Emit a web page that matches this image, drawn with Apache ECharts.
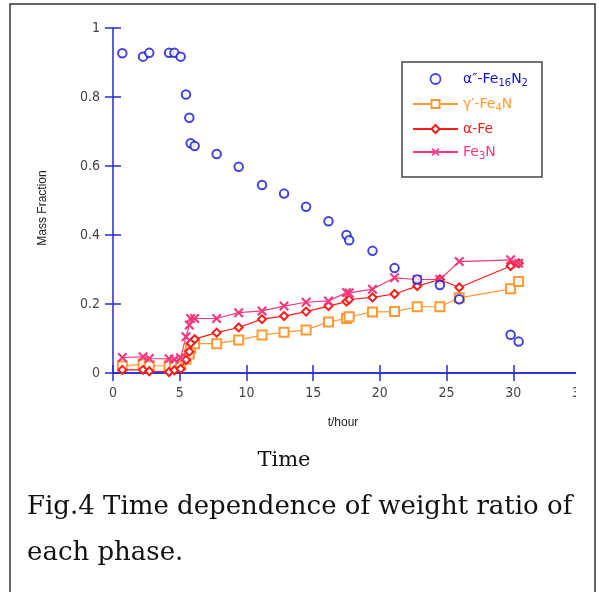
<!DOCTYPE html>
<html><head><meta charset="utf-8">
<script src="https://cdn.jsdelivr.net/npm/echarts@6/dist/echarts.min.js"></script>
<style>html,body{margin:0;padding:0;background:#fff}#c{width:599px;height:592px}</style>
</head><body><div id="c"></div>
<script>
// ---- data ----
const times        = [0.7, 2.25, 2.72, 4.2, 4.6, 5.07, 5.47, 5.72, 5.82, 6.12, 7.77, 9.42, 11.17, 12.82, 14.47, 16.15, 17.5, 17.7, 19.45, 21.1, 22.8, 24.5, 25.95, 29.8, 30.4];
const alpha2Fe16N2 = [0.927, 0.917, 0.928, 0.928, 0.928, 0.917, 0.807, 0.740, 0.666, 0.658, 0.635, 0.598, 0.545, 0.520, 0.482, 0.440, 0.400, 0.385, 0.354, 0.304, 0.271, 0.255, 0.214, 0.111, 0.091];
const gammaFe4N    = [0.020, 0.026, 0.021, 0.021, 0.022, 0.022, 0.040, 0.055, 0.070, 0.085, 0.085, 0.096, 0.110, 0.118, 0.125, 0.148, 0.158, 0.163, 0.177, 0.178, 0.192, 0.192, 0.218, 0.244, 0.265];
const alphaFe      = [0.009, 0.009, 0.005, 0.003, 0.008, 0.012, 0.038, 0.062, 0.086, 0.098, 0.117, 0.132, 0.156, 0.165, 0.178, 0.194, 0.207, 0.213, 0.219, 0.229, 0.252, 0.271, 0.248, 0.310, 0.318];
const fe3N         = [0.045, 0.047, 0.042, 0.041, 0.040, 0.044, 0.105, 0.139, 0.158, 0.158, 0.158, 0.175, 0.180, 0.194, 0.205, 0.209, 0.233, 0.232, 0.243, 0.276, 0.271, 0.271, 0.323, 0.328, 0.318];
const seriesNames  = ['α″-Fe16N2', 'γ′-Fe4N', 'α-Fe', 'Fe3N'];
const legendLabels = ['{n|α″-Fe}{s|16}{n|N}{s|2}', '{n|γ′-Fe}{s|4}{n|N}', '{n|α-Fe}', '{n|Fe}{s|3}{n|N}'];
const xAxisName = 't/hour';
const yAxisName = 'Mass Fraction';
const titleText = 'Time';
const captionLines = ['Fig.4 Time dependence of weight ratio of', 'each phase.'];

// ---- styles ----
const axisBlue = '#2a2ad2';
const cBlue = '#1414d0', cOrange = '#ff9933', cRed = '#ff1a1a', cPink = '#f5387f';
const tickFont = '"Liberation Sans Narrow", "DejaVu Sans Condensed", sans-serif';
const legFont = '"DejaVu Sans", sans-serif';
const pts = arr => times.map((t, i) => [t, arr[i]]);
const xShape = 'path://M0,1.5L1.5,0L5,3.5L8.5,0L10,1.5L6.5,5L10,8.5L8.5,10L5,6.5L1.5,10L0,8.5L3.5,5Z';

const chart = echarts.init(document.getElementById('c'), null, {renderer: 'canvas'});
const axLine = {lineStyle: {color: axisBlue, width: 1.5}};
const axTick = {inside: true, length: 8, lineStyle: {color: axisBlue, width: 1.5}};
const option = {
  animation: false,
  backgroundColor: '#fff',
  grid: {left: 113, top: 28, right: 19, bottom: 219},
  xAxis: [
    {type: 'value', min: 0, max: 35, interval: 5, position: 'bottom',
     axisLine: axLine, axisTick: axTick, splitLine: {show: false},
     axisLabel: {margin: 13, color: '#444', fontFamily: tickFont, fontSize: 14}},
    {type: 'value', min: 0, max: 35, interval: 5, position: 'top',
     axisLine: axLine, axisTick: axTick, splitLine: {show: false}, axisLabel: {show: false}}
  ],
  yAxis: [
    {type: 'value', min: 0, max: 1, interval: 0.2, position: 'left',
     axisLine: axLine, axisTick: axTick, splitLine: {show: false},
     axisLabel: {margin: 13, color: '#444', fontFamily: tickFont, fontSize: 14}},
    {type: 'value', min: 0, max: 1, interval: 0.2, position: 'right',
     axisLine: {show: false}, axisTick: axTick, splitLine: {show: false}, axisLabel: {show: false}}
  ],
  legend: {
    orient: 'vertical', left: 402, top: 62, padding: [10, 14, 16, 10], itemGap: 9,
    itemWidth: 45, itemHeight: 10, borderColor: '#444', borderWidth: 1.5, backgroundColor: '#fff',
    selectedMode: false,
    data: [
      {name: seriesNames[0], icon: 'circle', itemStyle: {color: '#fff', borderColor: cBlue, borderWidth: 1.8}, textStyle: {color: cBlue}},
      {name: seriesNames[1], textStyle: {color: cOrange}},
      {name: seriesNames[2], textStyle: {color: cRed}},
      {name: seriesNames[3], textStyle: {color: cPink}}
    ],
    formatter: n => legendLabels[seriesNames.indexOf(n)],
    textStyle: {
      fontFamily: legFont, fontSize: 14,
      rich: {
        n: {fontFamily: legFont, fontSize: 14, lineHeight: 18},
        s: {fontFamily: legFont, fontSize: 10, lineHeight: 6, verticalAlign: 'bottom'}
      }
    }
  },
  series: [
    {name: seriesNames[1], type: 'line', data: pts(gammaFe4N), symbol: 'emptyRect', symbolSize: 9,
     lineStyle: {color: cOrange, width: 1.2}, itemStyle: {color: cOrange, borderWidth: 1.5}, z: 3},
    {name: seriesNames[2], type: 'line', data: pts(alphaFe), symbol: 'emptyDiamond', symbolSize: 8,
     lineStyle: {color: cRed, width: 1.2}, itemStyle: {color: cRed, borderWidth: 1.5}, z: 4},
    {name: seriesNames[3], type: 'line', data: pts(fe3N), symbol: xShape, symbolSize: 10,
     lineStyle: {color: cPink, width: 1.2}, itemStyle: {color: cPink}, z: 5},
    {name: seriesNames[0], type: 'scatter', data: pts(alpha2Fe16N2), symbol: 'emptyCircle', symbolSize: 8.5,
     itemStyle: {color: cBlue, borderWidth: 2}, z: 6}
  ],
  graphic: [
    {type: 'rect', z: 90, shape: {x: 576, y: 10, width: 17, height: 400}, style: {fill: '#fff'}},
    {type: 'rect', z: 100, shape: {x: 10, y: 4, width: 585, height: 620}, style: {fill: 'none', stroke: '#333', lineWidth: 1.5}},
    {type: 'text', z: 100, x: 43, y: 208, rotation: Math.PI / 2,
     style: {text: yAxisName, font: '12px "Liberation Sans"', fill: '#222', align: 'center', verticalAlign: 'middle'}},
    {type: 'text', z: 100, x: 343, y: 423,
     style: {text: xAxisName, font: '12px "Liberation Sans"', fill: '#222', align: 'center', verticalAlign: 'middle'}},
    {type: 'text', z: 100, x: 284, y: 461,
     style: {text: titleText, font: '21px "DejaVu Serif"', fill: '#111', align: 'center', verticalAlign: 'middle'}},
    {type: 'text', z: 100, x: 27, y: 507,
     style: {text: captionLines[0], font: '26px "DejaVu Serif"', fill: '#111', align: 'left', verticalAlign: 'middle'}},
    {type: 'text', z: 100, x: 27, y: 553,
     style: {text: captionLines[1], font: '26px "DejaVu Serif"', fill: '#111', align: 'left', verticalAlign: 'middle'}}
  ]
};
chart.setOption(option);
</script></body></html>
